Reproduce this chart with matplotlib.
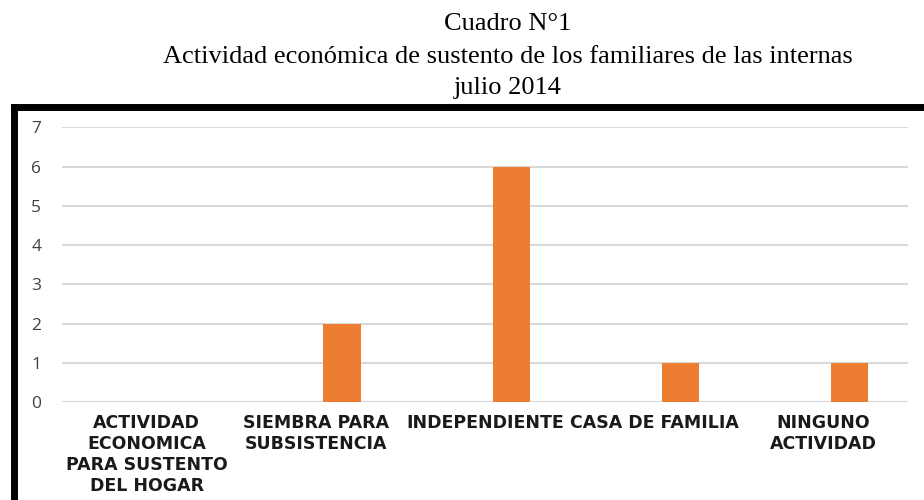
import matplotlib.pyplot as plt
from matplotlib.lines import Line2D
import numpy as np

# data
categorias = ["ACTIVIDAD\nECONOMICA\nPARA SUSTENTO\nDEL HOGAR",
              "SIEMBRA PARA\nSUBSISTENCIA",
              "INDEPENDIENTE",
              "CASA DE FAMILIA",
              "NINGUNO\nACTIVIDAD"]
valores = [0, 2, 6, 1, 1]
yticks = [0, 1, 2, 3, 4, 5, 6, 7]

titulo = ["Cuadro N°1",
          "Actividad económica de sustento de los familiares de las internas",
          "julio 2014"]

W, H = 924, 500
fig = plt.figure(figsize=(W / 100, H / 100), dpi=100)
ax = fig.add_axes([62 / W, 98 / H, 846 / W, 274.5 / H])

x = np.arange(len(categorias))
# bar sits right of the category centre (second slot of an Excel cluster)
ax.bar(x + 0.155, valores, width=0.22, color="#ED7D31", zorder=3)

ax.set_xlim(-0.5, len(categorias) - 0.5)
ax.set_ylim(0, 7)
ax.set_yticks(yticks)
ax.set_xticks(x)
ax.set_xticklabels(categorias, fontfamily="DejaVu Sans", fontweight="bold",
                   fontsize=12.5, color="#1a1a1a")
for lbl in ax.get_xticklabels():
    lbl.set_linespacing(1.2)
ax.tick_params(axis="x", length=0, pad=9)
ax.tick_params(axis="y", length=0, pad=15, labelsize=12.5, labelcolor="#404040")
for lbl in ax.get_yticklabels():
    lbl.set_fontfamily("Open Sans")

ax.grid(axis="y", color="#D9D9D9", linewidth=1.5, zorder=0)
for s in ax.spines.values():
    s.set_visible(False)

# titles in serif
ys = [476, 443, 412]
for t, yy in zip(titulo, ys):
    fig.text(508 / W, yy / H, t, ha="center", va="center",
             fontfamily="Liberation Serif", fontsize=19, color="black")

# thick black frame (left and top edges, cut off at right and bottom)
fig.add_artist(Line2D([13.5 / W, 13.5 / W], [0, 393 / H], color="black",
                      linewidth=5, transform=fig.transFigure, solid_capstyle="projecting"))
fig.add_artist(Line2D([13.5 / W, 1.0], [393 / H, 393 / H], color="black",
                      linewidth=5, transform=fig.transFigure, solid_capstyle="projecting"))

fig.savefig("out.png", dpi=100)
